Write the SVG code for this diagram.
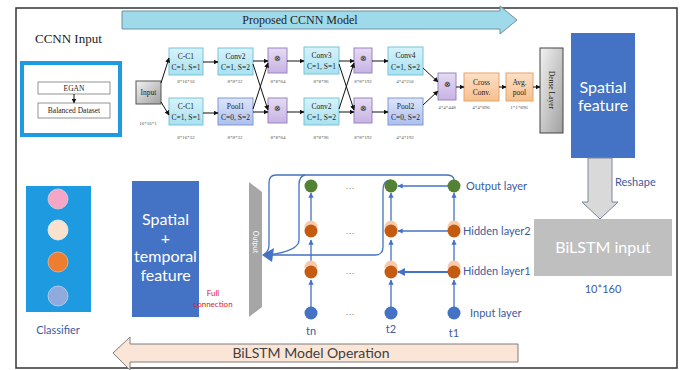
<svg xmlns="http://www.w3.org/2000/svg" width="695" height="370" viewBox="0 0 695 370">
<defs>
<linearGradient id="gCyan" x1="0" y1="0" x2="0" y2="1"><stop offset="0" stop-color="#d6f3fb"/><stop offset="1" stop-color="#a8e1f1"/></linearGradient>
<linearGradient id="gPool" x1="0" y1="0" x2="0" y2="1"><stop offset="0" stop-color="#dce5fa"/><stop offset="1" stop-color="#aebfee"/></linearGradient>
<linearGradient id="gPurp" x1="0" y1="0" x2="0" y2="1"><stop offset="0" stop-color="#e6dbf3"/><stop offset="1" stop-color="#c7b3e3"/></linearGradient>
<linearGradient id="gOrg" x1="0" y1="0" x2="0" y2="1"><stop offset="0" stop-color="#fde0c6"/><stop offset="1" stop-color="#f7bf8e"/></linearGradient>
<linearGradient id="gGray" x1="0" y1="0" x2="1" y2="1"><stop offset="0" stop-color="#f2f2f2"/><stop offset="1" stop-color="#a0a0a0"/></linearGradient>
<marker id="ah" viewBox="0 0 10 10" refX="9" refY="5" markerWidth="5" markerHeight="5" orient="auto"><path d="M0,0 L10,5 L0,10 z" fill="#111"/></marker>
<marker id="bh" viewBox="0 0 10 10" refX="9" refY="5" markerWidth="4" markerHeight="4" orient="auto"><path d="M0,0 L10,5 L0,10 z" fill="#4472c4"/></marker>
<style>
.ser{font-family:"Liberation Serif","Times New Roman",serif;fill:#222}
.bx{font-family:"Liberation Serif",serif;font-size:7.5px;fill:#222;text-anchor:middle}
.dim{font-family:"Liberation Serif",serif;font-size:5px;fill:#555;text-anchor:middle}
.cal{font-family:"Lato","Open Sans",sans-serif}
.cy{fill:url(#gCyan);stroke:#79c3d8;stroke-width:1}
.pl{fill:url(#gPool);stroke:#7f97d4;stroke-width:1}
.pu{fill:url(#gPurp);stroke:#9a84c0;stroke-width:1}
.or{fill:url(#gOrg);stroke:#e5a46a;stroke-width:1}
.cn{stroke:#111;stroke-width:1;fill:none;marker-end:url(#ah)}
.bl{stroke:#4472c4;stroke-width:1.3;fill:none;marker-end:url(#bh)}
.lbl{font-family:"Lato","Open Sans",sans-serif;font-size:11px;fill:#3a5ba0}
.big{font-family:"Lato","Open Sans",sans-serif;font-size:16px;fill:#fff;text-anchor:middle}
</style>
</defs>
<rect x="0" y="0" width="695" height="370" fill="#fff"/>
<rect x="16" y="8" width="661" height="360" fill="none" stroke="#333" stroke-width="1.5"/>

<g id="ccnn-arrow">
<path d="M122,11 L500,11 L500,6 L517,20 L500,34 L500,29 L122,29 Z" fill="#9fdaeb" stroke="#6f8fa0" stroke-width="1"/>
<text x="300" y="24" class="ser" font-size="12" text-anchor="middle">Proposed CCNN Model</text>
</g>

<g id="ccnn-input">
<text x="35" y="43" class="ser" font-size="13">CCNN Input</text>
<rect x="22" y="63" width="98" height="72" fill="#fff" stroke="#1e9be0" stroke-width="4"/>
<rect x="38" y="82" width="72" height="12" fill="#fff" stroke="#666" stroke-width="0.7"/>
<text x="74" y="91" class="bx" font-size="7">EGAN</text>
<line x1="74" y1="94" x2="74" y2="103" class="cn" stroke-width="0.7"/>
<rect x="38" y="103" width="72" height="15" fill="#fff" stroke="#666" stroke-width="0.7"/>
<text x="74" y="113" class="bx" font-size="7">Balanced Dataset</text>
</g>

<g id="input">
<rect x="136" y="81" width="25" height="23" fill="url(#gGray)" stroke="#555"/>
<text x="148.5" y="95" class="bx">Input</text>
<text x="148" y="125" class="dim">16*16*1</text>
</g>
<g id="cc1-top"><rect x="169" y="48" width="34" height="27" class="cy"/><text x="186" y="59" class="bx">C-C1</text><text x="186" y="70" class="bx">C=1, S=1</text><text x="186" y="83" class="dim">8*16*16</text></g>
<g id="cc1-bot"><rect x="169" y="98" width="34" height="27" class="cy"/><text x="186" y="109" class="bx">C-C1</text><text x="186" y="120" class="bx">C=1, S=1</text><text x="186" y="139" class="dim">8*16*32</text></g>
<g id="conv2-top"><rect x="218" y="48" width="35" height="27" class="cy"/><text x="235.5" y="59" class="bx">Conv2</text><text x="235.5" y="70" class="bx">C=1, S=2</text><text x="235" y="83" class="dim">8*8*32</text></g>
<g id="pool1"><rect x="218" y="98" width="35" height="27" class="pl"/><text x="235.5" y="109" class="bx">Pool1</text><text x="235.5" y="120" class="bx">C=0, S=2</text><text x="235" y="139" class="dim">8*8*32</text></g>
<g id="mul1-top"><rect x="268" y="48" width="19" height="25" class="pu"/><text x="277.5" y="61" class="bx" font-size="9">⊗</text><text x="278" y="83" class="dim">8*8*64</text></g>
<g id="mul1-bot"><rect x="268" y="98" width="19" height="25" class="pu"/><text x="277.5" y="111" class="bx" font-size="9">⊗</text><text x="278" y="139" class="dim">8*8*64</text></g>
<g id="conv3"><rect x="304" y="47" width="35" height="27" class="cy"/><text x="321.5" y="58" class="bx">Conv3</text><text x="321.5" y="69" class="bx">C=1, S=1</text><text x="321" y="83" class="dim">8*8*96</text></g>
<g id="conv2-bot"><rect x="304" y="98" width="35" height="27" class="cy"/><text x="321.5" y="109" class="bx">Conv2</text><text x="321.5" y="120" class="bx">C=1, S=2</text><text x="321" y="139" class="dim">8*8*96</text></g>
<g id="mul2-top"><rect x="354" y="48" width="18" height="25" class="pu"/><text x="363" y="61" class="bx" font-size="9">⊗</text><text x="363" y="83" class="dim">8*8*192</text></g>
<g id="mul2-bot"><rect x="354" y="98" width="18" height="25" class="pu"/><text x="363" y="111" class="bx" font-size="9">⊗</text><text x="363" y="139" class="dim">8*8*192</text></g>
<g id="conv4"><rect x="388" y="47" width="35" height="28" class="cy"/><text x="405.5" y="58" class="bx">Conv4</text><text x="405.5" y="70" class="bx">C=1, S=2</text><text x="405" y="83" class="dim">4*4*256</text></g>
<g id="pool2"><rect x="388" y="98" width="35" height="27" class="pl"/><text x="405.5" y="109" class="bx">Pool2</text><text x="405.5" y="120" class="bx">C=0, S=2</text><text x="405" y="139" class="dim">4*4*192</text></g>
<g id="mul3"><rect x="438" y="73" width="18" height="27" class="pu"/><text x="447" y="87" class="bx" font-size="9">⊗</text><text x="447" y="109" class="dim">4*4*448</text></g>
<g id="crossconv"><rect x="464" y="73" width="35" height="28" class="or"/><text x="481.5" y="85" class="bx">Cross</text><text x="481.5" y="95" class="bx">Conv.</text><text x="481" y="109" class="dim">4*4*896</text></g>
<g id="avgpool"><rect x="506" y="73" width="27" height="28" class="or"/><text x="519.5" y="85" class="bx">Avg.</text><text x="519.5" y="95" class="bx">pool</text><text x="519" y="109" class="dim">1*1*896</text></g>
<g id="dense"><rect x="540" y="48" width="23" height="85" fill="url(#gGray)" stroke="#444"/><text x="0" y="0" class="bx" transform="translate(549,90) rotate(90)">Dense Layer</text></g>
<g id="spatial"><rect x="571" y="33" width="64" height="125" fill="#4472c4"/><text x="603" y="93" class="big">Spatial</text><text x="603" y="111" class="big">feature</text></g>

<g id="reshape"><path d="M588,158 L612,158 L612,202 L618,202 L600,219 L582,202 L588,202 Z" fill="#d9d9d9" stroke="#7c879c" stroke-width="1"/><text x="615" y="186" class="lbl" font-size="10">Reshape</text></g>
<g id="bilstm-input"><rect x="534" y="219" width="138" height="57" fill="#bfbfbf"/><text x="603" y="253" class="big" font-size="15">BiLSTM input</text><text x="603" y="293" class="lbl" text-anchor="middle">10*160</text></g>

<g id="classifier"><rect x="26" y="186" width="65" height="126" fill="#1e9be0"/>
<circle cx="58" cy="199" r="10" fill="#f4a6c6" stroke="#e8c8d6" stroke-width="0.8"/>
<circle cx="58" cy="230" r="10" fill="#fae2cf" stroke="#eee" stroke-width="0.8"/>
<circle cx="58" cy="262" r="10" fill="#ed7d31" stroke="#f3b48a" stroke-width="0.8"/>
<circle cx="58" cy="296" r="10" fill="#8faadc" stroke="#c2d0ec" stroke-width="0.8"/>
<text x="58" y="334" class="lbl" text-anchor="middle">Classifier</text></g>

<g id="st-feature"><rect x="132" y="181" width="67" height="136" fill="#4472c4"/>
<text x="165.5" y="225" class="big" font-size="14.5">Spatial</text><text x="165.5" y="243.5" class="big" font-size="14.5">+</text><text x="165.5" y="262" class="big" font-size="14.5">temporal</text><text x="165.5" y="280.5" class="big" font-size="14.5">feature</text></g>
<g id="fullconn"><text x="213" y="296" class="cal" font-size="8" fill="#e0201a" text-anchor="middle">Full</text><text x="213" y="307" class="cal" font-size="8" fill="#e0201a" text-anchor="middle">connection</text></g>

<g id="output-bar"><path d="M249,182 L262,192 L262,307 L249,317 Z" fill="#a6a6a6"/><text x="0" y="0" class="cal" font-size="7" fill="#fff" text-anchor="middle" transform="translate(253,242) rotate(90)">Output</text></g>

<g id="connectors">
<line x1="161" y1="83" x2="169" y2="58" class="cn"/>
<line x1="161" y1="102" x2="169" y2="115" class="cn"/>
<line x1="203" y1="62" x2="218" y2="62" class="cn"/>
<line x1="203" y1="113" x2="218" y2="113" class="cn"/>
<line x1="253" y1="61" x2="268" y2="61" class="cn"/>
<line x1="253" y1="112" x2="268" y2="112" class="cn"/>
<line x1="253" y1="64" x2="268" y2="110" class="cn"/>
<line x1="253" y1="109" x2="268" y2="63" class="cn"/>
<line x1="287" y1="61" x2="304" y2="61" class="cn"/>
<line x1="287" y1="112" x2="304" y2="112" class="cn"/>
<line x1="339" y1="61" x2="354" y2="61" class="cn"/>
<line x1="339" y1="112" x2="354" y2="112" class="cn"/>
<line x1="339" y1="64" x2="354" y2="110" class="cn"/>
<line x1="339" y1="109" x2="354" y2="63" class="cn"/>
<line x1="372" y1="61" x2="388" y2="61" class="cn"/>
<line x1="372" y1="112" x2="388" y2="112" class="cn"/>
<line x1="423" y1="68" x2="438" y2="82" class="cn"/>
<line x1="423" y1="105" x2="438" y2="91" class="cn"/>
<line x1="456" y1="87" x2="464" y2="87" class="cn"/>
<line x1="499" y1="87" x2="506" y2="87" class="cn"/>
<line x1="533" y1="87" x2="540" y2="87" class="cn"/>

<g class="bl">
<line x1="311" y1="307" x2="311" y2="280"/>
<line x1="311" y1="266" x2="311" y2="240"/>
<line x1="311" y1="225" x2="311" y2="193"/>
<line x1="391" y1="307" x2="391" y2="280"/>
<line x1="391" y1="266" x2="391" y2="240"/>
<line x1="391" y1="225" x2="391" y2="193"/>
<line x1="454" y1="307" x2="454" y2="280"/>
<line x1="454" y1="266" x2="454" y2="240"/>
<line x1="454" y1="225" x2="454" y2="193"/>
<line x1="448" y1="186" x2="398" y2="186"/>
<line x1="448" y1="231" x2="398" y2="231"/>
<line x1="448" y1="272" x2="398" y2="272" stroke-width="2"/>
</g>
<path d="M454,180 Q454,175 446,175 L276,175 Q269,175 269,183 L269,245 Q269,252 263,255" fill="none" stroke="#4472c4" stroke-width="1.3"/>
<path d="M305,175 Q299,176 299,185 L299,240 Q299,251 268,255" fill="none" stroke="#4472c4" stroke-width="1.3"/>
<path d="M391,180 Q383,180 383,190 L383,247 Q383,255 375,255 L268,255" fill="none" stroke="#4472c4" stroke-width="1.3"/>
<path d="M262,255 L274,248 L272,262 Z" fill="#4472c4"/>
</g>

<g id="lstm-nodes">
<circle cx="311" cy="186" r="6.5" fill="#548235"/>
<circle cx="391" cy="186" r="6.5" fill="#548235"/>
<circle cx="454" cy="186" r="6.5" fill="#548235"/>
<g fill="#f8cbad"><circle cx="311" cy="227" r="6.5"/><circle cx="391" cy="227" r="6.5"/><circle cx="454" cy="227" r="6.5"/><circle cx="311" cy="267" r="6.5"/><circle cx="391" cy="267" r="6.5"/><circle cx="454" cy="267" r="6.5"/></g>
<g fill="#c55a11"><circle cx="311" cy="231" r="6.5"/><circle cx="391" cy="231" r="6.5"/><circle cx="454" cy="231" r="6.5"/><circle cx="311" cy="272" r="6.5"/><circle cx="391" cy="272" r="6.5"/><circle cx="454" cy="272" r="6.5"/></g>
<g fill="#4472c4"><circle cx="311" cy="313" r="6.5"/><circle cx="391" cy="313" r="6.5"/><circle cx="454" cy="313" r="6.5"/></g>
<g font-family="Liberation Sans, sans-serif" font-size="9" fill="#777" text-anchor="middle"><text x="350" y="191">···</text><text x="350" y="236">···</text><text x="350" y="276">···</text><text x="350" y="317">···</text></g>
</g>
<g id="lstm-labels">
<text x="466" y="190" class="lbl">Output layer</text>
<text x="463" y="235" class="lbl">Hidden layer2</text>
<text x="463" y="275" class="lbl">Hidden layer1</text>
<text x="470" y="317" class="lbl">Input layer</text>
<text x="311" y="335" class="lbl" text-anchor="middle">tn</text>
<text x="391" y="333" class="lbl" text-anchor="middle">t2</text>
<text x="454" y="337" class="lbl" text-anchor="middle">t1</text>
</g>

<g id="bilstm-arrow">
<path d="M518,344 L130,344 L130,337 L113,353 L130,370 L130,362 L518,362 Z" fill="#fbe5d6" stroke="#7f7f7f" stroke-width="1"/>
<text x="311" y="358" class="cal" font-size="14" fill="#404040" text-anchor="middle">BiLSTM Model Operation</text>
</g>
</svg>
